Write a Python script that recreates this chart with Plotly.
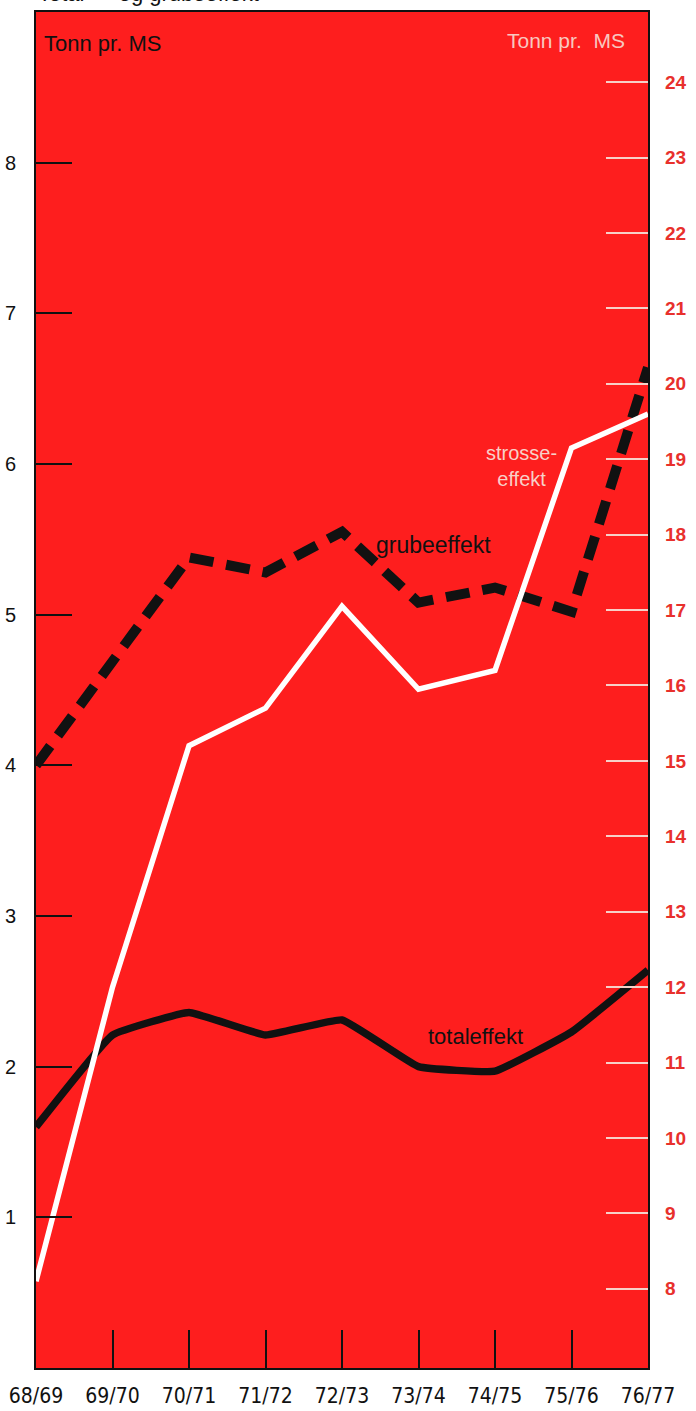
import plotly.graph_objects as go

seasons = ["68/69", "69/70", "70/71", "71/72", "72/73", "73/74", "74/75", "75/76", "76/77"]
grubeeffekt = [4.0, 4.7, 5.38, 5.28, 5.55, 5.08, 5.18, 5.02, 6.64]
totaleffekt = [1.6, 2.21, 2.36, 2.21, 2.31, 2.0, 1.97, 2.23, 2.64]
strosseeffekt = [8.1, 12.0, 15.2, 15.7, 17.05, 15.95, 16.2, 19.15, 19.6]
left_ticks = [1, 2, 3, 4, 5, 6, 7, 8]
right_ticks = list(range(8, 25))

x = list(range(len(seasons)))
RED = "#fe1e1e"
FONT = "Liberation Sans, Arial, sans-serif"
NARROW = "DejaVu Sans Condensed, Liberation Sans Narrow, Arial Narrow, Liberation Sans, sans-serif"

fig = go.Figure()
fig.add_trace(go.Scatter(x=x, y=strosseeffekt, yaxis="y2", mode="lines",
                         line=dict(color="white", width=5.5), showlegend=False))
fig.add_trace(go.Scatter(x=x, y=totaleffekt, mode="lines",
                         line=dict(color="#111111", width=7.5, shape="spline", smoothing=0.3),
                         showlegend=False))
fig.add_trace(go.Scatter(x=x, y=grubeeffekt, mode="lines",
                         line=dict(color="#111111", width=10, dash="24px,13px"),
                         showlegend=False))

fig.update_layout(
    width=696, height=1411,
    margin=dict(l=36, r=48, t=12, b=43),
    paper_bgcolor="white", plot_bgcolor=RED,
    xaxis=dict(range=[0, 8], tickvals=x, ticktext=seasons, showgrid=False, zeroline=False,
               automargin=False,
               ticks="inside", ticklen=38, tickwidth=1.5, tickcolor="#111111",
               showline=True, linecolor="#111111", linewidth=2, mirror=True,
               tickfont=dict(family=NARROW, size=21, color="#111111"), ticklabelstandoff=8),
    yaxis=dict(range=[0, 9], tickvals=left_ticks, showgrid=False, zeroline=False,
               automargin=False,
               ticks="inside", ticklen=36, tickwidth=1.5, tickcolor="#111111",
               showline=True, linecolor="#111111", linewidth=2, mirror=True,
               tickfont=dict(family=FONT, size=20, color="#111111"), ticklabelstandoff=14),
    yaxis2=dict(range=[6.95, 24.93], tickvals=right_ticks, overlaying="y", side="right",
                automargin=False,
                showgrid=False, zeroline=False, showline=False,
                ticks="inside", ticklen=42, tickwidth=1.5, tickcolor="#f7d0c8",
                tickfont=dict(family=FONT, size=19, color="#e8302c", weight="bold"),
                ticklabelstandoff=16),
    annotations=[
        dict(text="Tonn pr. MS", xref="paper", yref="paper", x=0.01, y=0.977,
             xanchor="left", yanchor="middle", showarrow=False,
             font=dict(family=FONT, size=22, color="#111111")),
        dict(text="Tonn pr.  MS", xref="paper", yref="paper", x=0.965, y=0.979,
             xanchor="right", yanchor="middle", showarrow=False,
             font=dict(family=FONT, size=21, color="#f8c8c0")),
        dict(text="grubeeffekt", xref="x", yref="y", x=5.2, y=(1368 - 545) / 150.7,
             xanchor="center", yanchor="middle", showarrow=False,
             font=dict(family=FONT, size=23, color="#111111")),
        dict(text="strosse-<br>effekt", xref="x", yref="y", x=6.34, y=(1368 - 466) / 150.7,
             xanchor="center", yanchor="middle", showarrow=False,
             font=dict(family=FONT, size=20, color="#f8d0c8")),
        dict(text="totaleffekt", xref="x", yref="y", x=5.74, y=(1368 - 1036) / 150.7,
             xanchor="center", yanchor="middle", showarrow=False,
             font=dict(family=FONT, size=22, color="#111111")),
        dict(text="Total\u2014  og grubeeffekt", xref="paper", yref="paper", x=0.0, y=1.0135,
             xanchor="left", yanchor="middle", showarrow=False,
             font=dict(family=FONT, size=22, color="#111111")),
    ],
)

fig.write_html("out.html", config={"displayModeBar": False},
               post_script="document.body.style.margin='0';document.body.style.overflow='hidden';")
